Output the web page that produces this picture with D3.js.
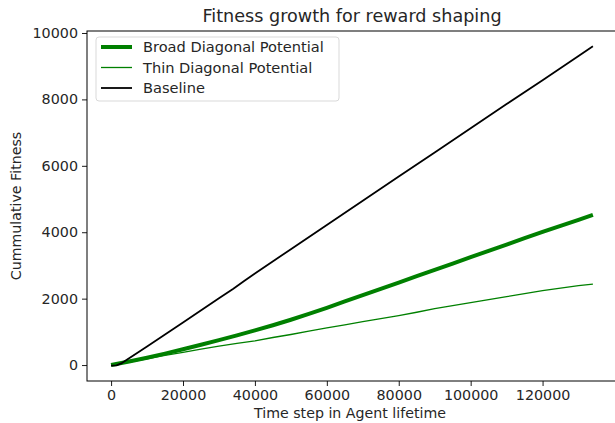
<!DOCTYPE html>
<html>
<head>
<meta charset="utf-8">
<script src="https://cdn.jsdelivr.net/npm/d3@7"></script>
<style>
  body { margin: 0; background: #fff; }
  text { font-family: "DejaVu Sans", sans-serif; fill: #262626; }
</style>
</head>
<body>
<svg id="chart"></svg>
<script>
// data
const seriesNames = ["Broad Diagonal Potential", "Thin Diagonal Potential", "Baseline"];

const stepsGreen = [0, 5000, 10000, 15000, 20000, 25000, 30000, 35000, 40000, 45000, 50000, 55000, 60000,
  65000, 70000, 75000, 80000, 85000, 90000, 95000, 100000, 105000, 110000, 115000, 120000, 125000, 130000, 134000];

const broadValues = [0, 105, 220, 345, 475, 610, 750, 895, 1045, 1200, 1365, 1540, 1725,
  1915, 2105, 2295, 2485, 2675, 2865, 3055, 3250, 3440, 3630, 3820, 4010, 4190, 4370, 4520];

const thinValues = [0, 90, 190, 290, 385, 480, 570, 650, 730, 830, 920, 1020, 1120,
  1210, 1310, 1400, 1490, 1590, 1700, 1790, 1880, 1970, 2060, 2150, 2240, 2320, 2390, 2440];

const stepsBaseline = [0, 1500, 3000, 10000, 20000, 30000, 34000, 37000, 40000, 50000, 60000,
  70000, 80000, 90000, 100000, 110000, 120000, 130000, 134000];
const baselineValues = [-20, -10, 60, 560, 1280, 2010, 2300, 2530, 2755, 3490, 4220,
  4950, 5680, 6400, 7130, 7860, 8580, 9310, 9600];

const xTicks = [0, 20000, 40000, 60000, 80000, 100000, 120000];
const yTicks = [0, 2000, 4000, 6000, 8000, 10000];

const width = 615, height = 423;
const margin = { top: 31, right: -2, bottom: 42, left: 87 };
const innerW = width - margin.left - margin.right;
const innerH = height - margin.top - margin.bottom;

const svg = d3.select("#chart")
    .attr("width", width)
    .attr("height", height);

const chart = svg.append("g")
    .attr("transform", `translate(${margin.left},${margin.top})`);

// matplotlib style 5% margins around the data
const xScale = d3.scaleLinear()
    .domain([-6700, 140700])
    .range([0, innerW]);

const yScale = d3.scaleLinear()
    .domain([-480, 10060])
    .range([innerH, 0]);

const line = d3.line()
    .x(d => xScale(d[0]))
    .y(d => yScale(d[1]));

const series = [
  { name: seriesNames[0], data: d3.zip(stepsGreen, broadValues), color: "#008000", width: 4 },
  { name: seriesNames[1], data: d3.zip(stepsGreen, thinValues), color: "#008000", width: 1.3 },
  { name: seriesNames[2], data: d3.zip(stepsBaseline, baselineValues), color: "#000000", width: 1.8 }
];

chart.selectAll(".series")
    .data(series)
  .enter().append("path")
    .attr("class", "series")
    .attr("fill", "none")
    .attr("stroke", d => d.color)
    .attr("stroke-width", d => d.width)
    .attr("stroke-linejoin", "round")
    .attr("d", d => line(d.data));

// axes
const xAxis = d3.axisBottom(xScale).tickValues(xTicks).tickFormat(d3.format("d")).tickSize(5).tickPadding(4);
const yAxis = d3.axisLeft(yScale).tickValues(yTicks).tickFormat(d3.format("d")).tickSize(5).tickPadding(4);

const xAxisG = chart.append("g")
    .attr("transform", `translate(0,${innerH})`)
    .call(xAxis);
const yAxisG = chart.append("g").call(yAxis);

[xAxisG, yAxisG].forEach(g => {
  g.select(".domain").remove();
  g.selectAll("line").attr("stroke", "#000").attr("stroke-width", 0.9);
  g.selectAll("text").style("font-size", "14.3px").style("font-family", "DejaVu Sans").attr("fill", "#262626");
});

// frame
chart.append("rect")
    .attr("width", innerW)
    .attr("height", innerH)
    .attr("fill", "none")
    .attr("stroke", "#000")
    .attr("stroke-width", 1);

// title and labels
svg.append("text")
    .attr("x", 352)
    .attr("y", 22)
    .attr("text-anchor", "middle")
    .style("font-size", "17.6px")
    .text("Fitness growth for reward shaping");

svg.append("text")
    .attr("x", 350)
    .attr("y", 418)
    .attr("text-anchor", "middle")
    .style("font-size", "14.2px")
    .text("Time step in Agent lifetime");

svg.append("text")
    .attr("transform", `translate(21,${margin.top + innerH / 2}) rotate(-90)`)
    .attr("text-anchor", "middle")
    .style("font-size", "14.2px")
    .text("Cummulative Fitness");

// legend
const legend = svg.append("g")
    .attr("transform", "translate(96,37)");

legend.append("rect")
    .attr("width", 243)
    .attr("height", 64)
    .attr("rx", 3)
    .attr("fill", "#fff")
    .attr("fill-opacity", 0.8)
    .attr("stroke", "#d9d9d9");

const item = legend.selectAll(".item")
    .data(series)
  .enter().append("g")
    .attr("class", "item")
    .attr("transform", (d, i) => `translate(0,${10 + i * 20.5})`);

item.append("line")
    .attr("x1", 5)
    .attr("x2", 36)
    .attr("stroke", d => d.color)
    .attr("stroke-width", d => d.width);

item.append("text")
    .attr("x", 47)
    .attr("dy", "0.35em")
    .style("font-size", "14.6px")
    .text(d => d.name);
</script>
</body>
</html>
